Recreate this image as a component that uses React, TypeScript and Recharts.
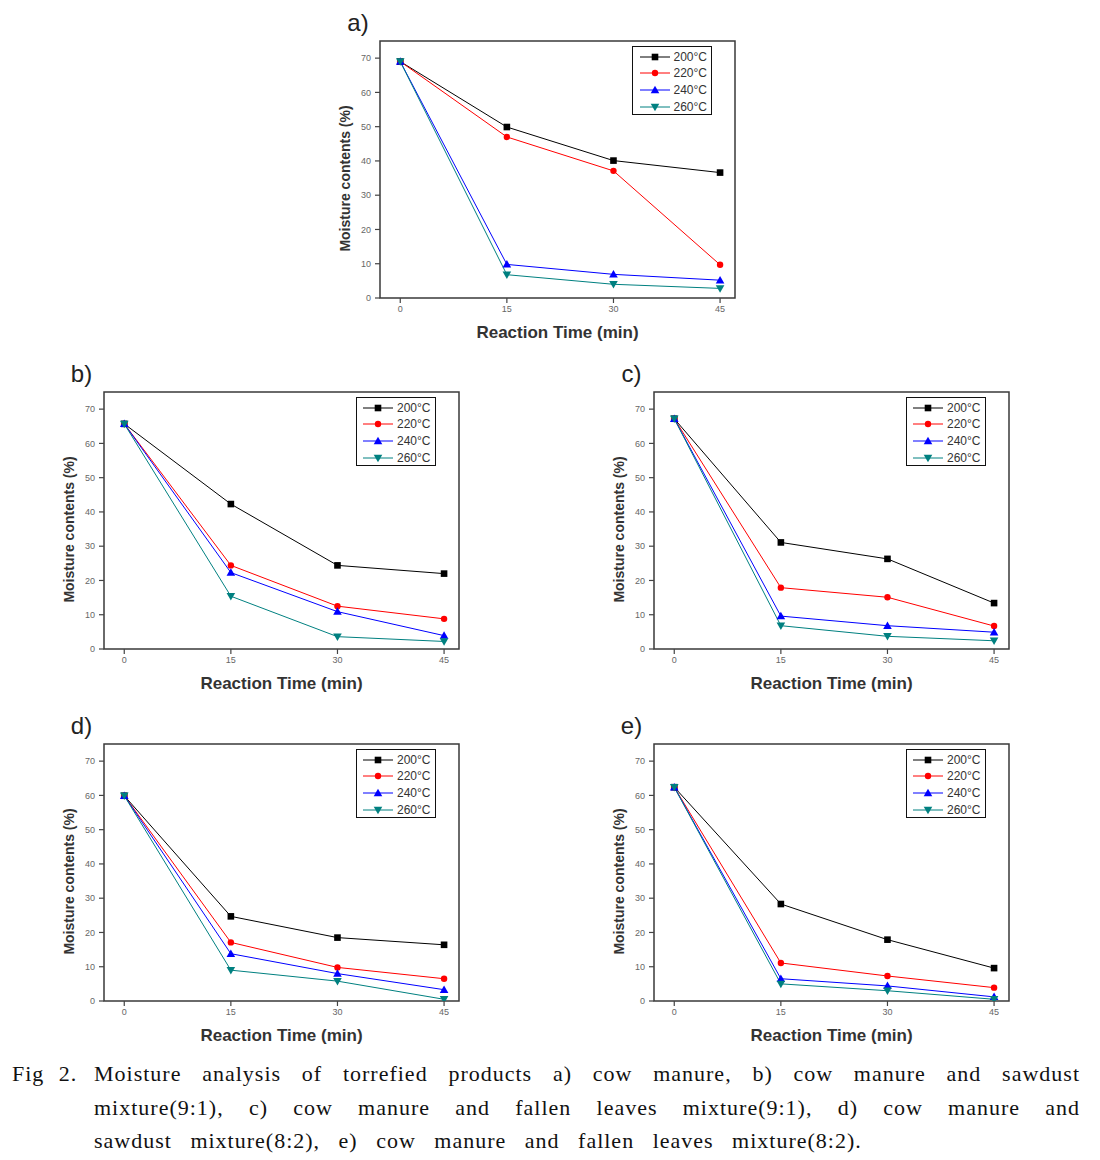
import React from 'react';
import { LineChart, Line, XAxis, YAxis, ReferenceArea, Legend } from 'recharts';

const TIMES = [0, 15, 30, 45];
const TEMPS = ['200°C', '220°C', '240°C', '260°C'];
const SERIES_COLORS = ['#000000', '#ff0000', '#0000ff', '#008080'];
const MARKERS = ['square', 'circle', 'up', 'down'];
const Y_TICKS = [0, 10, 20, 30, 40, 50, 60, 70];
const X_DOMAIN = [-2.85, 47.1];
const Y_DOMAIN = [0, 75];

// moisture contents (%), one row per temperature, one column per reaction time
const moistureA = [
  [69, 49.9, 40.1, 36.6],
  [69, 47.0, 37.1, 9.7],
  [69, 9.8, 6.9, 5.2],
  [69, 6.8, 4.0, 2.8],
];
const moistureB = [
  [65.7, 42.3, 24.4, 22.0],
  [65.7, 24.4, 12.5, 8.8],
  [65.7, 22.3, 10.9, 3.9],
  [65.7, 15.4, 3.6, 2.2],
];
const moistureC = [
  [67.2, 31.1, 26.3, 13.4],
  [67.2, 17.9, 15.1, 6.7],
  [67.2, 9.6, 6.8, 4.9],
  [67.2, 6.8, 3.7, 2.4],
];
const moistureD = [
  [59.9, 24.7, 18.5, 16.4],
  [59.9, 17.1, 9.8, 6.5],
  [59.9, 13.8, 8.0, 3.3],
  [59.9, 9.0, 5.8, 0.5],
];
const moistureE = [
  [62.4, 28.3, 17.9, 9.6],
  [62.4, 11.1, 7.3, 3.9],
  [62.4, 6.5, 4.4, 1.2],
  [62.4, 5.0, 3.0, 0.5],
];

const PANEL_LABELS = ['a)', 'b)', 'c)', 'd)', 'e)'];
const X_TITLE = 'Reaction Time (min)';
const Y_TITLE = 'Moisture contents (%)';

const CAPTION_HEAD = 'Fig 2.';
const CAPTION_LINES = [
  'Moisture analysis of torrefied products a) cow manure, b) cow manure and sawdust',
  'mixture(9:1), c) cow manure and fallen leaves mixture(9:1), d) cow manure and',
  'sawdust mixture(8:2), e) cow manure and fallen leaves mixture(8:2).',
];

const SANS = '"Liberation Sans", Arial, sans-serif';
const SERIF = '"Liberation Serif", "Times New Roman", serif';

// plot frame top-left corner of each panel on the page
const FRAMES = [
  { x: 380, y: 41 },
  { x: 103.5, y: 392 },
  { x: 653.5, y: 392 },
  { x: 103.5, y: 744 },
  { x: 653.5, y: 744 },
];
const FRAME_W = 355;
const FRAME_H = 257;
const M = { top: 45, right: 25, left: 35, bottom: 10 };
const Y_AXIS_W = 70;
const X_AXIS_H = 45;

function toRows(values: number[][]) {
  return TIMES.map((t, i) => {
    const row: Record<string, number> = { t };
    TEMPS.forEach((_, s) => {
      row['s' + s] = values[s][i];
    });
    return row;
  });
}

function Marker({ cx, cy, kind, color }: { cx?: number; cy?: number; kind: string; color: string }) {
  if (cx == null || cy == null) return null;
  if (kind === 'square') return <rect x={cx - 3.3} y={cy - 3.3} width={6.6} height={6.6} fill={color} />;
  if (kind === 'circle') return <circle cx={cx} cy={cy} r={3.2} fill={color} />;
  if (kind === 'up')
    return <polygon points={`${cx},${cy - 4.3} ${cx - 4.3},${cy + 3.2} ${cx + 4.3},${cy + 3.2}`} fill={color} />;
  return <polygon points={`${cx},${cy + 4.3} ${cx - 4.3},${cy - 3.2} ${cx + 4.3},${cy - 3.2}`} fill={color} />;
}

function LegendBox() {
  return (
    <div
      style={{
        width: 80,
        height: 69,
        boxSizing: 'border-box',
        border: '1.5px solid #111',
        background: '#fff',
        paddingTop: 1.5,
        fontFamily: SANS,
        fontSize: 12,
        color: '#333',
      }}
    >
      {TEMPS.map((name, i) => (
        <div key={name} style={{ display: 'flex', alignItems: 'center', height: 16.6, paddingLeft: 6.5 }}>
          <svg width={30} height={10} style={{ display: 'block' }}>
            <line x1={0} y1={5} x2={30} y2={5} stroke={SERIES_COLORS[i]} strokeWidth={1} />
            <Marker cx={15} cy={5} kind={MARKERS[i]} color={SERIES_COLORS[i]} />
          </svg>
          <span style={{ marginLeft: 4, lineHeight: '12px' }}>{name}</span>
        </div>
      ))}
    </div>
  );
}

function YTitle(props: any) {
  const { x, y, width, height } = props.viewBox;
  const cx = x + width / 2;
  const cy = y + height / 2 + 9;
  return (
    <text
      x={cx}
      y={cy}
      transform={`rotate(-90 ${cx} ${cy})`}
      textAnchor="middle"
      dominantBaseline="central"
      fill="#333"
      fontFamily={SANS}
      fontWeight={700}
      fontSize={14}
    >
      {Y_TITLE}
    </text>
  );
}

function Panel({ label, values, fx, fy }: { label: string; values: number[][]; fx: number; fy: number }) {
  const W = M.left + Y_AXIS_W + FRAME_W + M.right;
  const H = M.top + FRAME_H + X_AXIS_H + M.bottom;
  const rows = toRows(values);
  const plotLeft = M.left + Y_AXIS_W;
  return (
    <div style={{ position: 'absolute', left: fx - plotLeft, top: fy - M.top, width: W, height: H }}>
      <LineChart width={W} height={H} data={rows} margin={M}>
        <ReferenceArea
          x1={X_DOMAIN[0]}
          x2={X_DOMAIN[1]}
          y1={Y_DOMAIN[0]}
          y2={Y_DOMAIN[1]}
          fill="none"
          fillOpacity={0}
          stroke="#3a3a3a"
          strokeWidth={1.5}
          ifOverflow="visible"
        />
        <XAxis
          dataKey="t"
          type="number"
          domain={X_DOMAIN}
          allowDataOverflow
          ticks={TIMES}
          height={X_AXIS_H}
          axisLine={false}
          tickLine={{ stroke: '#444', strokeWidth: 1.2 }}
          tickSize={5}
          tickMargin={3}
          tick={{ fill: '#666', fontSize: 9, fontFamily: SANS }}
          label={{
            value: X_TITLE,
            position: 'insideBottom',
            offset: 5,
            fill: '#333',
            fontSize: 17,
            fontWeight: 700,
            fontFamily: SANS,
          }}
        />
        <YAxis
          type="number"
          domain={Y_DOMAIN}
          allowDataOverflow
          ticks={Y_TICKS}
          width={Y_AXIS_W}
          axisLine={false}
          tickLine={{ stroke: '#444', strokeWidth: 1.2 }}
          tickSize={5}
          tickMargin={4}
          tick={{ fill: '#666', fontSize: 9, fontFamily: SANS }}
          label={<YTitle />}
        />
        <Legend
          layout="horizontal"
          verticalAlign="middle"
          align="center"
          content={<LegendBox />}
          wrapperStyle={{ top: M.top + 5, left: plotLeft + FRAME_W - 23 - 80, width: 80, height: 69 }}
        />
        {TEMPS.map((name, i) => (
          <Line
            key={name}
            name={name}
            dataKey={'s' + i}
            type="linear"
            stroke={SERIES_COLORS[i]}
            strokeWidth={1}
            isAnimationActive={false}
            dot={(p: any) => (
              <Marker key={`${name}-${p.index}`} cx={p.cx} cy={p.cy} kind={MARKERS[i]} color={SERIES_COLORS[i]} />
            )}
            activeDot={false}
          />
        ))}
      </LineChart>
      <div
        style={{
          position: 'absolute',
          left: plotLeft - 22,
          top: M.top - 18,
          transform: 'translate(-50%, -50%)',
          fontFamily: SANS,
          fontSize: 24,
          lineHeight: 1,
          color: '#222',
        }}
      >
        {label}
      </div>
    </div>
  );
}

export default function App() {
  const panels = [moistureA, moistureB, moistureC, moistureD, moistureE];
  return (
    <div style={{ position: 'absolute', left: 0, top: 0, width: 1100, height: 1160, background: '#fff', overflow: 'hidden' }}>
      {panels.map((values, i) => (
        <Panel key={PANEL_LABELS[i]} label={PANEL_LABELS[i]} values={values} fx={FRAMES[i].x} fy={FRAMES[i].y} />
      ))}
      <div
        style={{
          position: 'absolute',
          left: 12,
          top: 1057,
          fontFamily: SERIF,
          fontSize: 22,
          lineHeight: '33.5px',
          color: '#111',
          letterSpacing: 1,
          wordSpacing: 8,
        }}
      >
        {CAPTION_HEAD}
      </div>
      <div
        style={{
          position: 'absolute',
          left: 94,
          top: 1057,
          width: 986,
          fontFamily: SERIF,
          fontSize: 22,
          lineHeight: '33.5px',
          color: '#111',
          letterSpacing: 1,
        }}
      >
        {CAPTION_LINES.map((line, i) => (
          <div
            key={i}
            style={{
              textAlign: i < CAPTION_LINES.length - 1 ? 'justify' : 'left',
              textAlignLast: i < CAPTION_LINES.length - 1 ? 'justify' : 'auto',
              wordSpacing: i < CAPTION_LINES.length - 1 ? 0 : 12,
            }}
          >
            {line}
          </div>
        ))}
      </div>
    </div>
  );
}
